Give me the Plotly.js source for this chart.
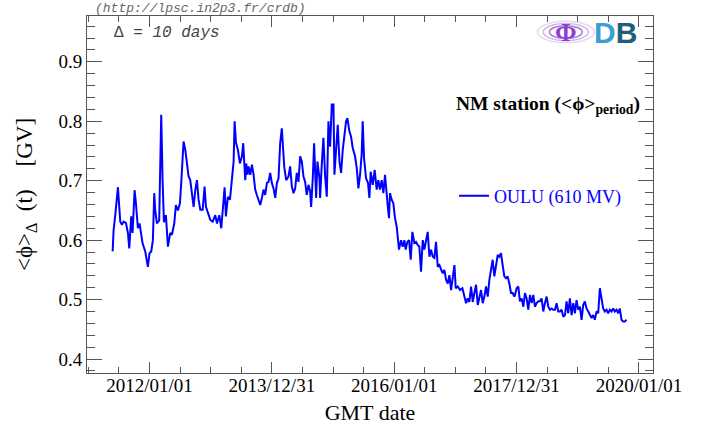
<!DOCTYPE html>
<html>
<head>
<meta charset="utf-8">
<script src="https://cdn.plot.ly/plotly-3.0.1.min.js"></script>
<style>
  html, body { margin: 0; padding: 0; background: #fff; }
  #plot { width: 713px; height: 434px; }
</style>
</head>
<body>
<div id="plot"></div>
<script>
// time as decimal year (about one point per 10-day bin)
const years = [
  2011.397, 2011.413, 2011.440, 2011.467, 2011.484, 2011.505, 2011.522, 2011.549, 2011.576, 2011.614,
  2011.647, 2011.669, 2011.701, 2011.723, 2011.756, 2011.778, 2011.810, 2011.837, 2011.865, 2011.886,
  2011.930, 2011.973, 2012.000, 2012.028, 2012.055, 2012.077, 2012.093, 2012.120, 2012.158, 2012.175,
  2012.191, 2012.213, 2012.235, 2012.267, 2012.300, 2012.338, 2012.365, 2012.403, 2012.430, 2012.463,
  2012.496, 2012.517, 2012.539, 2012.555, 2012.583, 2012.610, 2012.637, 2012.664, 2012.692, 2012.719,
  2012.746, 2012.773, 2012.800, 2012.828, 2012.866, 2012.898, 2012.920, 2012.953, 2012.991, 2013.029,
  2013.072, 2013.100, 2013.138, 2013.170, 2013.208, 2013.225, 2013.246, 2013.279, 2013.312, 2013.344,
  2013.372, 2013.388, 2013.410, 2013.442, 2013.475, 2013.508, 2013.529,
  2013.562, 2013.578, 2013.600, 2013.616, 2013.644, 2013.671, 2013.698, 2013.725, 2013.752, 2013.780,
  2013.807, 2013.834, 2013.861, 2013.888, 2013.916, 2013.943, 2013.970, 2013.997, 2014.024, 2014.052,
  2014.079, 2014.106, 2014.133, 2014.160, 2014.177, 2014.199, 2014.231, 2014.269, 2014.296, 2014.324,
  2014.351, 2014.378, 2014.405, 2014.432, 2014.460, 2014.487, 2014.514, 2014.541, 2014.568, 2014.596,
  2014.623, 2014.639, 2014.666, 2014.688, 2014.721, 2014.742, 2014.775, 2014.786, 2014.813, 2014.840,
  2014.868, 2014.895, 2014.922, 2014.949, 2014.977, 2015.004, 2015.020, 2015.047, 2015.074, 2015.102,
  2015.129, 2015.156, 2015.183, 2015.210, 2015.232, 2015.265, 2015.292, 2015.319, 2015.357, 2015.385,
  2015.412, 2015.439, 2015.466, 2015.482, 2015.504, 2015.537, 2015.569, 2015.591, 2015.613, 2015.646,
  2015.678, 2015.711, 2015.738,
  2015.765, 2015.793, 2015.820, 2015.847, 2015.874, 2015.890, 2015.912, 2015.928, 2015.956, 2015.983,
  2016.010, 2016.037, 2016.054, 2016.075, 2016.108, 2016.135, 2016.162, 2016.184, 2016.211, 2016.239,
  2016.266, 2016.293, 2016.326, 2016.353, 2016.380, 2016.407, 2016.434, 2016.462, 2016.489, 2016.516,
  2016.543, 2016.571, 2016.598, 2016.625, 2016.652, 2016.679, 2016.707, 2016.734, 2016.761, 2016.788,
  2016.815, 2016.843, 2016.870, 2016.897, 2016.924, 2016.951, 2016.979, 2017.000, 2017.033, 2017.071,
  2017.109, 2017.142, 2017.169, 2017.196, 2017.223, 2017.251, 2017.278, 2017.305, 2017.332, 2017.360,
  2017.387, 2017.414, 2017.441, 2017.468, 2017.495, 2017.523, 2017.550, 2017.577, 2017.604, 2017.631,
  2017.659, 2017.686, 2017.713, 2017.740, 2017.767, 2017.795, 2017.822, 2017.849, 2017.876, 2017.904,
  2017.931, 2017.958,
  2017.969, 2017.996, 2018.023, 2018.050, 2018.078, 2018.105, 2018.132, 2018.159, 2018.186, 2018.214,
  2018.241, 2018.268, 2018.295, 2018.322, 2018.350, 2018.377, 2018.404, 2018.431, 2018.458, 2018.486,
  2018.513, 2018.540, 2018.567, 2018.594, 2018.622, 2018.649, 2018.676, 2018.703, 2018.730, 2018.758,
  2018.785, 2018.812, 2018.839, 2018.866, 2018.894, 2018.921, 2018.948, 2018.975, 2019.002, 2019.030,
  2019.057, 2019.084, 2019.111, 2019.138, 2019.166, 2019.193, 2019.220, 2019.247, 2019.274, 2019.302,
  2019.329, 2019.356, 2019.383, 2019.410, 2019.438, 2019.465, 2019.492, 2019.519, 2019.546, 2019.574,
  2019.601, 2019.628, 2019.655, 2019.682, 2019.710, 2019.737, 2019.764, 2019.791
];

// <phi> over 10 days, in GV
const phiOulu = [
  0.581, 0.617, 0.642, 0.668, 0.689, 0.656, 0.631, 0.626, 0.631, 0.629,
  0.612, 0.586, 0.640, 0.612, 0.684, 0.662, 0.620, 0.628, 0.612, 0.595,
  0.581, 0.555, 0.578, 0.581, 0.600, 0.679, 0.651, 0.628, 0.633, 0.727,
  0.811, 0.701, 0.630, 0.642, 0.589, 0.612, 0.609, 0.628, 0.659, 0.650,
  0.662, 0.696, 0.729, 0.766, 0.752, 0.729, 0.707, 0.701, 0.679, 0.656,
  0.684, 0.701, 0.668, 0.651, 0.651, 0.690, 0.656, 0.645, 0.634, 0.631,
  0.642, 0.628, 0.642, 0.620, 0.673, 0.689, 0.640, 0.673, 0.668, 0.699,
  0.732, 0.800, 0.764, 0.752, 0.729, 0.741, 0.763,
  0.701, 0.729, 0.710, 0.724, 0.710, 0.727, 0.710, 0.685, 0.676, 0.665,
  0.659, 0.671, 0.685, 0.676, 0.696, 0.698, 0.713, 0.696, 0.687, 0.671,
  0.696, 0.704, 0.763, 0.788, 0.755, 0.724, 0.701, 0.707, 0.724, 0.690,
  0.679, 0.687, 0.713, 0.698, 0.741, 0.732, 0.707, 0.698, 0.676, 0.693,
  0.682, 0.656, 0.704, 0.763, 0.671, 0.732, 0.704, 0.671, 0.727, 0.772,
  0.707, 0.673, 0.800, 0.757, 0.828, 0.828, 0.710, 0.746, 0.794, 0.732,
  0.713, 0.752, 0.772, 0.800, 0.805, 0.783, 0.774, 0.755, 0.741, 0.721,
  0.687, 0.710, 0.746, 0.800, 0.738, 0.704, 0.696, 0.671, 0.715, 0.693,
  0.718, 0.685, 0.701,
  0.685, 0.701, 0.679, 0.710, 0.685, 0.659, 0.637, 0.679, 0.668, 0.662,
  0.637, 0.623, 0.606, 0.584, 0.600, 0.589, 0.600, 0.584, 0.597, 0.600,
  0.567, 0.614, 0.595, 0.597, 0.592, 0.589, 0.547, 0.600, 0.584, 0.597,
  0.614, 0.572, 0.584, 0.572, 0.570, 0.597, 0.555, 0.558, 0.550, 0.544,
  0.550, 0.533, 0.527, 0.541, 0.516, 0.533, 0.558, 0.519, 0.522, 0.516,
  0.519, 0.505, 0.494, 0.502, 0.496, 0.522, 0.496, 0.511, 0.525, 0.491,
  0.505, 0.516, 0.494, 0.505, 0.522, 0.505, 0.533, 0.550, 0.567, 0.539,
  0.561, 0.575, 0.572, 0.578, 0.558, 0.539, 0.536, 0.539, 0.527, 0.511,
  0.511, 0.505,
  0.508, 0.519, 0.522, 0.497, 0.502, 0.488, 0.511, 0.502, 0.483, 0.508,
  0.494, 0.508, 0.488, 0.494, 0.497, 0.497, 0.502, 0.480, 0.494, 0.505,
  0.488, 0.483, 0.485, 0.483, 0.483, 0.494, 0.480, 0.480, 0.483, 0.471,
  0.474, 0.497, 0.477, 0.502, 0.474, 0.494, 0.477, 0.499, 0.483, 0.488,
  0.466, 0.491, 0.497, 0.485, 0.480, 0.474, 0.469, 0.474, 0.466, 0.480,
  0.477, 0.519, 0.497, 0.485, 0.480, 0.483, 0.477, 0.483, 0.480, 0.485,
  0.480, 0.483, 0.477, 0.485, 0.466, 0.463, 0.463, 0.466
];

const tickDates = ['2012-01-01', '2013-12-31', '2015-12-31', '2017-12-30', '2019-12-30'];
const tickLabels = ['2012/01/01', '2013/12/31', '2016/01/01', '2017/12/31', '2020/01/01'];

function yearToDate(y) {
  const yr = Math.floor(y);
  const start = Date.UTC(yr, 0, 1);
  const end = Date.UTC(yr + 1, 0, 1);
  return new Date(start + (y - yr) * (end - start)).toISOString().slice(0, 19).replace('T', ' ');
}

const serif = 'Liberation Serif, Times New Roman, serif';
const mono = 'Liberation Mono, Courier New, monospace';
const frame = '#555';
const DAY = 86400000;

const trace = {
  x: years.map(yearToDate),
  y: phiOulu,
  type: 'scatter',
  mode: 'lines',
  name: 'OULU (610 MV)',
  line: { color: '#0000ff', width: 2 }
};

// small logo in the top right corner
const logoShapes = [
  { w: 0.100, h: 0.060, c: 'rgba(190,170,230,0.45)' },
  { w: 0.080, h: 0.048, c: 'rgba(170,140,220,0.6)' },
  { w: 0.058, h: 0.036, c: 'rgba(140,90,200,0.8)' }
].map(e => ({
  type: 'circle', xref: 'paper', yref: 'paper', layer: 'above',
  x0: 0.846 - e.w / 2, x1: 0.846 + e.w / 2,
  y0: 0.955 - e.h / 2, y1: 0.955 + e.h / 2,
  line: { color: e.c, width: 1.5 }
}));

const layout = {
  width: 713,
  height: 434,
  margin: { l: 87, r: 60, t: 16, b: 61 },
  paper_bgcolor: '#fff',
  plot_bgcolor: '#fff',
  font: { family: serif, color: '#000', size: 19 },
  showlegend: true,
  legend: {
    x: 0.6485, y: 0.496, xanchor: 'left', yanchor: 'middle',
    bgcolor: 'rgba(0,0,0,0)',
    font: { family: serif, size: 18, color: '#0000ff' }
  },
  xaxis: {
    type: 'date',
    range: ['2010-12-24', '2020-03-23'],
    tickmode: 'array',
    tickvals: tickDates,
    ticktext: tickLabels,
    ticks: 'inside',
    ticklen: 11,
    tickwidth: 1,
    tickcolor: frame,
    ticklabelstandoff: -5,
    minor: { ticks: 'inside', ticklen: 6, tickcolor: frame, tick0: '2012-01-01', dtick: 182.5 * DAY, showgrid: false },
    showline: true,
    linecolor: frame,
    linewidth: 1,
    mirror: 'ticks',
    showgrid: false,
    zeroline: false,
    tickfont: { family: serif, size: 19, color: '#000' },
    title: { text: 'GMT date', font: { family: serif, size: 22, color: '#000' }, standoff: 9 }
  },
  yaxis: {
    range: [0.3765, 0.977],
    tickmode: 'linear',
    tick0: 0.4,
    dtick: 0.1,
    ticks: 'inside',
    ticklen: 15,
    tickwidth: 1,
    tickcolor: frame,
    minor: { ticks: 'inside', ticklen: 8, tickcolor: frame, dtick: 0.02, showgrid: false },
    showline: true,
    linecolor: frame,
    linewidth: 1,
    mirror: 'ticks',
    showgrid: false,
    zeroline: false,
    tickfont: { family: serif, size: 19, color: '#000' },
    title: { text: '&lt;ϕ&gt;<sub>Δ</sub>  (t)    [GV]', font: { family: serif, size: 23, color: '#000' }, standoff: 19 }
  },
  shapes: logoShapes,
  annotations: [
    {
      xref: 'paper', yref: 'paper', x: 0.0106, y: 1.0224, xanchor: 'left', yanchor: 'middle',
      text: '<i>(http://lpsc.in2p3.fr/crdb)</i>', showarrow: false,
      font: { family: mono, size: 13, color: '#666' }
    },
    {
      xref: 'paper', yref: 'paper', x: 0.0442, y: 0.952, xanchor: 'left', yanchor: 'middle',
      text: 'Δ <i>= 10 days</i>', showarrow: false,
      font: { family: mono, size: 16, color: '#444' }
    },
    {
      xref: 'paper', yref: 'paper', x: 0.9806, y: 0.75, xanchor: 'right', yanchor: 'middle',
      text: '<b>NM station (&lt;ϕ&gt;<sub>period</sub>)</b>', showarrow: false,
      font: { family: serif, size: 19.5, color: '#000' }
    },
    {
      xref: 'paper', yref: 'paper', x: 0.846, y: 0.955, xanchor: 'center', yanchor: 'middle',
      text: '<b>Φ</b>', showarrow: false,
      font: { family: serif, size: 26, color: '#8e3fcf' }
    },
    {
      xref: 'paper', yref: 'paper', x: 0.893, y: 0.955, xanchor: 'left', yanchor: 'middle',
      text: '<b><span style="color:#3a9fd6">D</span><span style="color:#1d6077">B</span></b>', showarrow: false,
      font: { family: 'Liberation Sans, Arial, sans-serif', size: 30 }
    }
  ]
};

Plotly.newPlot('plot', [trace], layout, { displayModeBar: false, staticPlot: true });
</script>
</body>
</html>
